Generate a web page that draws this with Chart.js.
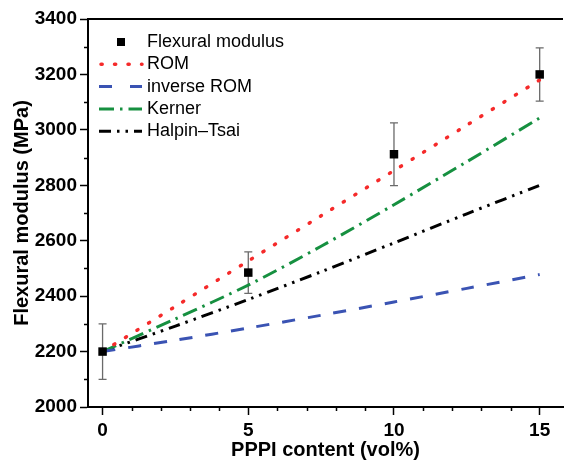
<!DOCTYPE html>
<html>
<head>
<meta charset="utf-8">
<script src="https://cdn.jsdelivr.net/npm/chart.js@4"></script>
<style>
  html, body { margin: 0; padding: 0; background: #fff; }
  #wrap { width: 569px; height: 464px; position: relative; }
</style>
</head>
<body>
<div id="wrap"><canvas id="chart"></canvas></div>
<script>
// values
const modelX = [0, 2.5, 5, 7.5, 10, 12.5, 15];
const romVals = [2200, 2363, 2527, 2690, 2853, 3017, 3180];
const invRomVals = [2200, 2241, 2285, 2331, 2379, 2428, 2478];
const kernerVals = [2200, 2318, 2440, 2580, 2730, 2885, 3043];
const halpinVals = [2200, 2292, 2388, 2488, 2592, 2697, 2800];

const expX = [0, 5, 10, 15];
const expVals = [2200, 2485, 2912, 3200];
const expErr = [100, 75, 113, 96];

const xTicks = [0, 5, 10, 15];
const yTicks = [2000, 2200, 2400, 2600, 2800, 3000, 3200, 3400];
const xMinor = [1, 2, 3, 4, 6, 7, 8, 9, 11, 12, 13, 14];
const yMinor = [2100, 2300, 2500, 2700, 2900, 3100, 3300];

const FONT = "'Liberation Sans', Arial, sans-serif";
const C = { red: "#f52a2a", blue: "#3a53b3", green: "#169040", black: "#000", err: "#6a6a6a" };

const DOT = [1.2, 12.3], DASH = [13, 13], DASHDOT = [15, 6, 2.5, 6], DASHDOTDOT = [12, 6, 2.5, 6, 2.5, 6];

const pts = (xs, ys) => xs.map((x, i) => ({ x, y: ys[i] }));

const LEGEND = [
  { label: "Flexural modulus", marker: true },
  { label: "ROM", color: C.red, dash: DOT, cap: "round" },
  { label: "inverse ROM", color: C.blue, dash: [13, 18], cap: "butt" },
  { label: "Kerner", color: C.green, dash: DASHDOT, cap: "butt" },
  { label: "Halpin\u2013Tsai", color: C.black, dash: DASHDOTDOT, cap: "butt" },
];

// error bars, minor ticks, top border and the legend
const extras = {
  id: "extras",
  beforeDatasetsDraw(chart) {
    const { ctx, scales: { x, y } } = chart;
    ctx.save();
    ctx.strokeStyle = C.err; ctx.lineWidth = 1.3;
    expX.forEach((v, i) => {
      const px = x.getPixelForValue(v);
      const top = y.getPixelForValue(expVals[i] + expErr[i]);
      const bot = y.getPixelForValue(expVals[i] - expErr[i]);
      ctx.beginPath();
      ctx.moveTo(px, top); ctx.lineTo(px, bot);
      ctx.moveTo(px - 4, top); ctx.lineTo(px + 4, top);
      ctx.moveTo(px - 4, bot); ctx.lineTo(px + 4, bot);
      ctx.stroke();
    });
    ctx.restore();
  },
  afterDraw(chart) {
    const { ctx, chartArea: a, scales: { x, y } } = chart;
    ctx.save();
    ctx.strokeStyle = "#000"; ctx.lineWidth = 1.5;
    ctx.beginPath();
    xMinor.forEach((v) => { const px = Math.round(x.getPixelForValue(v)) + 0.5; ctx.moveTo(px, a.bottom); ctx.lineTo(px, a.bottom + 4); });
    yMinor.forEach((v) => { const py = Math.round(y.getPixelForValue(v)) + 0.5; ctx.moveTo(a.left, py); ctx.lineTo(a.left - 4, py); });
    ctx.stroke();
    ctx.lineWidth = 2;
    ctx.beginPath(); ctx.moveTo(a.left, a.top); ctx.lineTo(a.right, a.top); ctx.stroke();

    // legend
    ctx.font = "18px " + FONT; ctx.textBaseline = "middle"; ctx.fillStyle = "#000";
    LEGEND.forEach((it, i) => {
      const ly = 42 + i * 22.3;
      if (it.marker) {
        ctx.fillRect(117, ly - 4, 8, 8);
      } else {
        ctx.strokeStyle = it.color; ctx.lineWidth = it.cap === "round" ? 3.5 : 3; ctx.lineCap = it.cap;
        ctx.setLineDash(it.dash);
        ctx.beginPath(); ctx.moveTo(it.cap === "round" ? 101 : 99, ly); ctx.lineTo(142, ly); ctx.stroke();
        ctx.setLineDash([]);
      }
      ctx.fillText(it.label, 147, ly);
    });
    ctx.restore();
  },
};

const lineSet = (label, ys, color, dash, cap, width) => ({
  label, data: pts(modelX, ys), showLine: true, borderColor: color, borderWidth: width || 3,
  borderDash: dash, borderCapStyle: cap, pointRadius: 0, fill: false, tension: 0.3,
});

new Chart(document.getElementById("chart"), {
  type: "scatter",
  data: {
    datasets: [
      { label: "Flexural modulus", data: pts(expX, expVals), pointStyle: "rect", pointRadius: 6,
        backgroundColor: "#000", borderColor: "#000", borderWidth: 0, showLine: false },
      lineSet("ROM", romVals, C.red, DOT, "round", 3.5),
      lineSet("inverse ROM", invRomVals, C.blue, DASH, "butt"),
      lineSet("Kerner", kernerVals, C.green, DASHDOT, "butt"),
      lineSet("Halpin\u2013Tsai", halpinVals, C.black, DASHDOTDOT, "butt"),
    ],
  },
  options: {
    responsive: true, maintainAspectRatio: false, animation: false,
    layout: { padding: { top: 19, right: 1, left: 0, bottom: 0 } },
    plugins: { legend: { display: false }, tooltip: { enabled: false } },
    scales: {
      x: {
        type: "linear", min: -0.5, max: 15.8,
        afterBuildTicks: (s) => { s.ticks = xTicks.map((v) => ({ value: v })); },
        afterFit: (s) => { s.height = 57; },
        ticks: { color: "#000", font: { family: FONT, size: 19, weight: "bold" }, padding: 4, maxRotation: 0,
          callback: (v) => String(v) },
        grid: { display: true, drawOnChartArea: false, drawTicks: true, tickLength: 8, tickColor: "#000", tickWidth: 1.5 },
        border: { display: true, color: "#000", width: 2 },
        title: { display: true, text: "PPPI content (vol%)", color: "#000",
          font: { family: FONT, size: 20, weight: "bold" }, padding: { top: 0, bottom: 2 } },
      },
      y: {
        type: "linear", min: 2000, max: 3400,
        afterBuildTicks: (s) => { s.ticks = yTicks.map((v) => ({ value: v })); },
        afterFit: (s) => { s.width = 88; },
        ticks: { color: "#000", font: { family: FONT, size: 19, weight: "bold" }, padding: 3,
          callback: (v) => String(v) },
        grid: { display: true, drawOnChartArea: false, drawTicks: true, tickLength: 8, tickColor: "#000", tickWidth: 1.5 },
        border: { display: true, color: "#000", width: 2 },
        title: { display: true, text: "Flexural modulus (MPa)", color: "#000",
          font: { family: FONT, size: 20, weight: "bold" }, padding: { top: 10, bottom: 0 } },
      },
    },
  },
  plugins: [extras],
});
</script>
</body>
</html>
